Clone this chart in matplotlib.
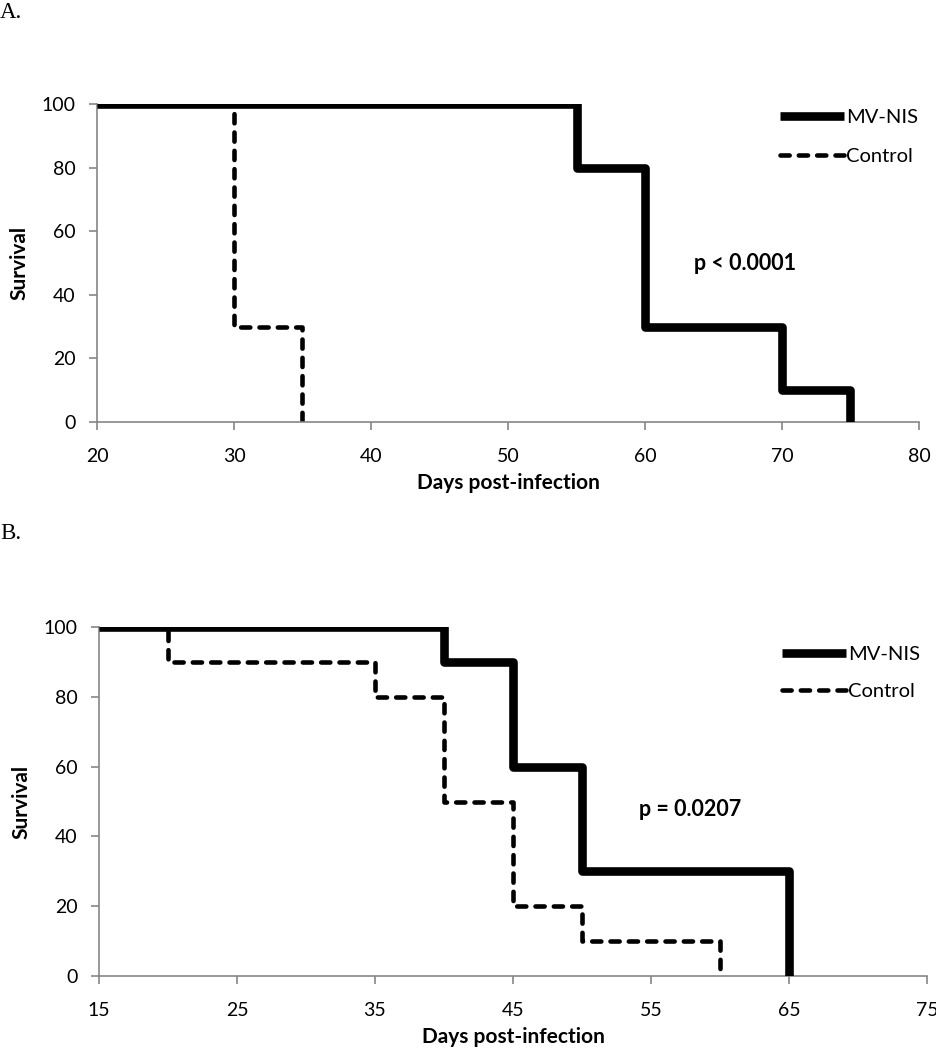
import matplotlib
matplotlib.use("Agg")
from matplotlib import pyplot as plt

# panel A
dias_a = [20, 55, 60, 70, 75]
mvnis_a = [100, 80, 30, 10, 0]
ctrl_dias_a = [20, 30, 35]
ctrl_a = [100, 30, 0]
xticks_a = [20, 30, 40, 50, 60, 70, 80]
p_a = "p < 0.0001"

# panel B
dias_b = [15, 40, 45, 50, 65]
mvnis_b = [100, 90, 60, 30, 0]
ctrl_dias_b = [15, 20, 35, 40, 45, 50, 60]
ctrl_b = [100, 90, 80, 50, 20, 10, 0]
xticks_b = [15, 25, 35, 45, 55, 65, 75]
p_b = "p = 0.0207"

yticks = [0, 20, 40, 60, 80, 100]

plt.rcParams['font.family'] = ['Lato', 'DejaVu Sans']
cinza = '#868686'

fig = plt.figure(figsize=(9.37, 10.5), dpi=100)


def painel(ax, x1, y1, x2, y2, xt, ptxt, ppos, leg_anchor, espaco, largura):
    ax.step(x2, y2, where='post', color='black', lw=3.3,
            dashes=(2.0, 2.0), dash_capstyle='round', solid_joinstyle='round',
            label='Control', zorder=2)
    ax.step(x1, y1, where='post', color='black', lw=6.2,
            solid_joinstyle='round', solid_capstyle='butt', label='MV-NIS', zorder=3)
    ax.set_xlim(xt[0], xt[-1])
    ax.set_ylim(0, 100)
    ax.set_xticks(xt)
    ax.set_yticks(yticks)
    for s in ['top', 'right']:
        ax.spines[s].set_visible(False)
    for s in ['left', 'bottom']:
        ax.spines[s].set_color(cinza)
        ax.spines[s].set_linewidth(1.2)
    ax.tick_params(axis='both', direction='out', length=5.5, width=1.2,
                   color=cinza, labelsize=14)
    ax.tick_params(axis='x', pad=13)
    ax.tick_params(axis='y', pad=10)
    ax.set_xlabel('Days post-infection', fontsize=15, fontweight='bold', labelpad=6)
    ax.set_ylabel('Survival', fontsize=15, fontweight='bold')
    ax.yaxis.set_label_coords(-68 / largura, 0.5)
    ax.text(ppos[0], ppos[1], ptxt, fontsize=15.5, fontweight='bold',
            ha='center', va='center')
    h, l = ax.get_legend_handles_labels()
    ax.legend(h[::-1], l[::-1], loc='upper left', bbox_to_anchor=leg_anchor,
              bbox_transform=fig.transFigure, frameon=False, fontsize=14.5,
              handlelength=3.2, handletextpad=0.1, borderpad=0,
              borderaxespad=0, labelspacing=espaco)


ax1 = fig.add_axes([97 / 937, 1 - 422 / 1050, 822 / 937, 318 / 1050])
painel(ax1, dias_a, mvnis_a, ctrl_dias_a, ctrl_a, xticks_a, p_a, (67.3, 50),
       (780 / 937, 1 - 109 / 1050), 1.1, 822)

ax2 = fig.add_axes([99 / 937, 1 - 976 / 1050, 828 / 937, 349 / 1050])
painel(ax2, dias_b, mvnis_b, ctrl_dias_b, ctrl_b, xticks_b, p_b, (57.8, 47.6),
       (782 / 937, 1 - 646 / 1050), 1.0, 828)

fig.text(0.0, 1 - 2 / 1050, 'A.', family='Liberation Serif', fontsize=16.5,
         ha='left', va='top')
fig.text(0.0, 1 - 523 / 1050, 'B.', family='Liberation Serif', fontsize=16.5,
         ha='left', va='top')

fig.savefig('out.png', dpi=100)
